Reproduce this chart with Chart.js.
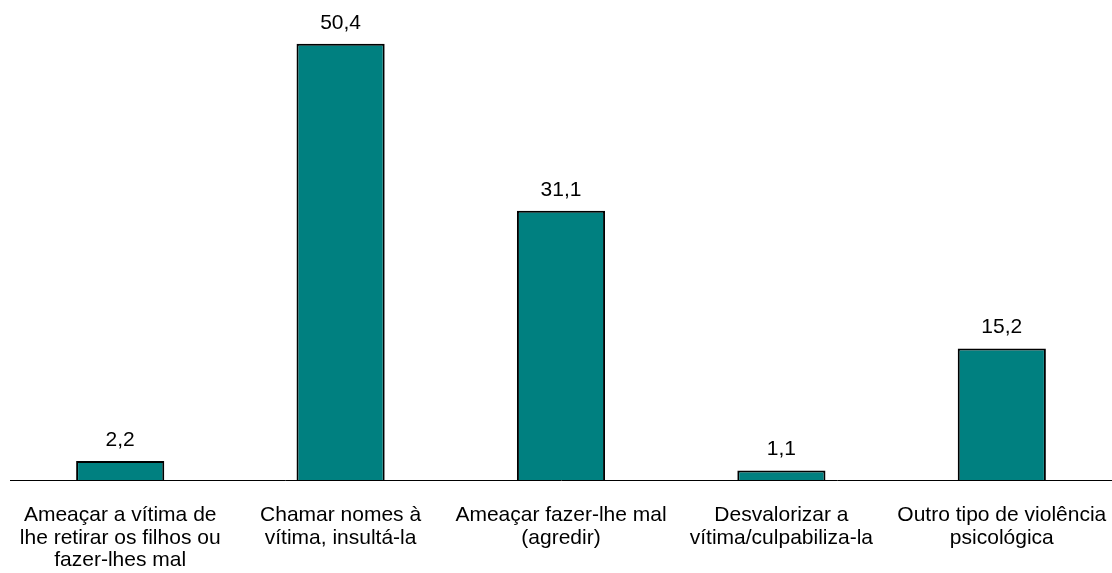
<!DOCTYPE html>
<html>
<head>
<meta charset="utf-8">
<script src="https://cdn.jsdelivr.net/npm/chart.js@4"></script>
<style>
  html, body { margin: 0; padding: 0; background: #fff; }
  #wrap { width: 1112px; height: 573px; }
</style>
</head>
<body>
<div id="wrap"><canvas id="myChart"></canvas></div>
<script>
const categories = [
    ["Ameaçar a vítima de", "lhe retirar os filhos ou", "fazer-lhes mal"],
    ["Chamar nomes à", "vítima, insultá-la"],
    ["Ameaçar fazer-lhe mal", "(agredir)"],
    ["Desvalorizar a", "vítima/culpabiliza-la"],
    ["Outro tipo de violência", "psicológica"]
]
const values = [2.2, 50.4, 31.1, 1.1, 15.2]

Chart.defaults.font.family = "'Liberation Sans', Arial, sans-serif"
Chart.defaults.font.size = 21
Chart.defaults.color = "#000"

// value labels above the bars (comma decimals)
const valueLabels = {
    id: "valueLabels",
    afterDatasetsDraw(chart) {
        const ctx = chart.ctx
        const meta = chart.getDatasetMeta(0)
        ctx.save()
        ctx.font = "21px 'Liberation Sans', Arial, sans-serif"
        ctx.fillStyle = "#000"
        ctx.textAlign = "center"
        ctx.textBaseline = "alphabetic"
        meta.data.forEach((bar, i) => {
            const txt = values[i].toFixed(1).replace(".", ",")
            ctx.fillText(txt, bar.x, bar.y - 15)
        })
        ctx.restore()
    }
}

new Chart("myChart", {
    type: "bar",
    data: {
        labels: categories,
        datasets: [{
            data: values,
            backgroundColor: "#008080",
            borderColor: "#000",
            borderWidth: 2,
            barPercentage: 0.4,
            categoryPercentage: 1
        }]
    },
    options: {
        responsive: true,
        maintainAspectRatio: false,
        animation: false,
        layout: { padding: { left: 10, right: 0, top: 4, bottom: 0 } },
        plugins: {
            legend: { display: false },
            tooltip: { enabled: false }
        },
        scales: {
            x: {
                grid: { display: false },
                border: { display: true, color: "#000", width: 1 },
                ticks: { padding: 16, maxRotation: 0, autoSkip: false, font: { lineHeight: 1.08 } },
                afterFit(scale) {
                    // keep the long end labels from squeezing the plot
                    scale.height = 93
                    scale.paddingLeft = 0
                    scale.paddingRight = 0
                }
            },
            y: {
                display: false,
                min: 0,
                max: 55
            }
        }
    },
    plugins: [valueLabels]
})
</script>
</body>
</html>
